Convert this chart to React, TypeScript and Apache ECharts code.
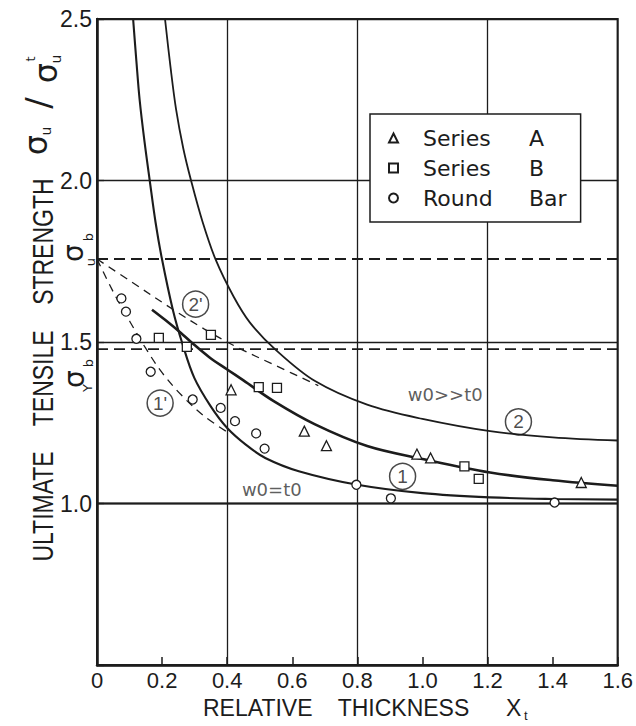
import React, { useEffect, useRef } from "react";
import * as echarts from "echarts";

// ---- data ----
const xTickStep = 0.2;
const xGridStep = 0.4;
const yTickStep = 0.5;
const xRange: [number, number] = [0, 1.6];
const yRange: [number, number] = [0.5, 2.5];

const seriesA: [number, number][] = [
  [0.412, 1.352], [0.637, 1.224], [0.705, 1.179], [0.983, 1.153], [1.025, 1.141], [1.488, 1.065],
];
const seriesB: [number, number][] = [
  [0.19, 1.513], [0.276, 1.485], [0.35, 1.522], [0.497, 1.36], [0.553, 1.358], [1.129, 1.115], [1.173, 1.076],
];
const roundBar: [number, number][] = [
  [0.075, 1.635], [0.089, 1.594], [0.121, 1.51], [0.165, 1.408], [0.294, 1.322], [0.38, 1.296],
  [0.424, 1.255], [0.489, 1.217], [0.515, 1.17], [0.797, 1.058], [0.903, 1.016], [1.406, 1.003],
];

// curve (2): w0 >> t0
const curve2: [number, number][] = [
  [0.209, 2.5], [0.226, 2.35], [0.243, 2.22], [0.265, 2.1], [0.289, 2.0], [0.325, 1.87], [0.365, 1.754],
  [0.42, 1.64], [0.47, 1.56], [0.55, 1.475], [0.67, 1.379], [0.83, 1.306], [1.0, 1.262], [1.208, 1.224],
  [1.4, 1.205], [1.6, 1.195],
];
// curve (1): w0 = t0
const curve1: [number, number][] = [
  [0.111, 2.5], [0.121, 2.37], [0.131, 2.25], [0.146, 2.12], [0.162, 2.0], [0.18, 1.87], [0.199, 1.76],
  [0.233, 1.6], [0.263, 1.493], [0.299, 1.389], [0.35, 1.3], [0.4, 1.234], [0.46, 1.18], [0.517, 1.141],
  [0.62, 1.1], [0.8, 1.058], [1.0, 1.032], [1.208, 1.019], [1.4, 1.014], [1.6, 1.012],
];
// middle (fitted) curve
const curveMid: [number, number][] = [
  [0.169, 1.6], [0.21, 1.568], [0.258, 1.528], [0.289, 1.5], [0.345, 1.453], [0.4, 1.415], [0.45, 1.381],
  [0.543, 1.317], [0.67, 1.245], [0.83, 1.178], [1.0, 1.138], [1.208, 1.096], [1.4, 1.072], [1.6, 1.055],
];
// dashed curves (2') and (1')
const curve2p: [number, number][] = [
  [0, 1.757], [0.1, 1.69], [0.235, 1.6], [0.33, 1.54], [0.43, 1.484], [0.543, 1.43], [0.68, 1.365],
];
const curve1p: [number, number][] = [
  [0, 1.757], [0.05, 1.655], [0.1, 1.565], [0.15, 1.48], [0.2, 1.405], [0.26, 1.335], [0.33, 1.27], [0.41, 1.215],
];

const sigmaUb = 1.757;
const sigmaYb = 1.478;
const unity = 1.0;

const circledLabels = [
  { name: "2'", value: [0.303, 1.617] },
  { name: "1'", value: [0.194, 1.311] },
  { name: "2", value: [1.295, 1.253] },
  { name: "1", value: [0.939, 1.084] },
];
const noteLabels = [
  { name: "w0>>t0", value: [1.07, 1.339] },
  { name: "w0=t0", value: [0.537, 1.043] },
];

const legendNames = ["Series A", "Series B", "Round Bar"];

// ---- styling ----
const INK = "#1c1c1c";
const FONT = "'Liberation Sans', Arial, sans-serif";
const NOTE_FONT = "'DejaVu Sans', sans-serif";

function hLine(y: number): [number, number][] {
  return [[xRange[0], y], [xRange[1], y]];
}

function lineSeries(name: string, data: [number, number][], width: number, type: any = "solid") {
  return {
    type: "line",
    name,
    data,
    showSymbol: false,
    symbol: "none",
    smooth: 0.35,
    silent: true,
    clip: true,
    z: 2,
    lineStyle: { color: INK, width, type },
  };
}

function scatterSeries(name: string, data: [number, number][], symbol: string, size: number) {
  return {
    type: "scatter",
    name,
    data,
    symbol,
    symbolSize: size,
    z: 5,
    itemStyle: { color: "#ffffff", borderColor: INK, borderWidth: 1.3, opacity: 1 },
  };
}

function txt(text: string, x: number, y: number, size: number, extra: any = {}) {
  return {
    type: "text",
    x,
    y,
    ...extra,
    style: {
      text,
      fontSize: size,
      fontFamily: extra.fontFamily || NOTE_FONT,
      fill: INK,
      align: extra.align || "center",
      textAlign: extra.align || "center",
      verticalAlign: "middle",
      textVerticalAlign: "middle",
    },
  };
}

function buildOption(): any {
  return {
    animation: false,
    backgroundColor: "#ffffff",
    grid: {
      left: 97,
      right: 15,
      top: 19,
      bottom: 61,
      show: true,
      borderColor: INK,
      borderWidth: 2,
      backgroundColor: "transparent",
    },
    legend: {
      data: legendNames,
      orient: "vertical",
      left: 370,
      top: 114,
      padding: [13, 14, 13, 18],
      itemGap: 8,
      itemWidth: 9,
      itemHeight: 9,
      borderColor: INK,
      borderWidth: 1.5,
      backgroundColor: "#ffffff",
      selectedMode: false,
      formatter: (name: string) => {
        const i = name.lastIndexOf(" ");
        return `{a|${name.slice(0, i)}}{b|${name.slice(i + 1)}}`;
      },
      textStyle: {
        fontFamily: NOTE_FONT,
        fontSize: 22,
        color: INK,
        rich: {
          a: { fontFamily: NOTE_FONT, fontSize: 22, color: INK, width: 106, padding: [0, 0, 0, 20] },
          b: { fontFamily: NOTE_FONT, fontSize: 22, color: INK },
        },
      },
    },
    xAxis: [
      {
        type: "value",
        min: xRange[0],
        max: xRange[1],
        interval: xTickStep,
        axisLine: { show: true, lineStyle: { color: INK, width: 2.5 } },
        axisTick: { show: true, inside: true, length: 8, lineStyle: { color: INK, width: 1.5 } },
        axisLabel: {
          fontFamily: FONT,
          fontSize: 22,
          color: INK,
          margin: 4,
          formatter: (v: number) => (v === 0 ? "0" : v.toFixed(1)),
        },
        splitLine: { show: false },
      },
      {
        type: "value",
        min: xRange[0],
        max: xRange[1],
        interval: xGridStep,
        position: "bottom",
        axisLine: { show: false },
        axisTick: { show: false },
        axisLabel: { show: false },
        splitLine: { show: true, lineStyle: { color: INK, width: 1.3 } },
      },
    ],
    yAxis: {
      type: "value",
      min: yRange[0],
      max: yRange[1],
      interval: yTickStep,
      axisLine: { show: true, lineStyle: { color: INK, width: 2.5 } },
      axisTick: { show: true, inside: true, length: 7, lineStyle: { color: INK, width: 1.3 } },
      axisLabel: {
        fontFamily: FONT,
        fontSize: 23,
        color: INK,
        margin: 5,
        formatter: (v: number) => (v === yRange[0] ? "" : v.toFixed(1)),
      },
      splitLine: { show: true, lineStyle: { color: INK, width: 1.3 } },
    },
    series: [
      { ...lineSeries("unity", hLine(unity), 2.2), smooth: false },
      { ...lineSeries("sigmaUb", hLine(sigmaUb), 1.8, [11, 6]), smooth: false },
      { ...lineSeries("sigmaYb", hLine(sigmaYb), 1.8, [11, 6]), smooth: false },
      lineSeries("curve2", curve2, 1.8),
      lineSeries("curve1", curve1, 2.1),
      lineSeries("curveMid", curveMid, 2.6),
      lineSeries("curve2p", curve2p, 1.3, [8, 6]),
      lineSeries("curve1p", curve1p, 1.3, [8, 6]),
      scatterSeries("Series A", seriesA, "triangle", 10),
      scatterSeries("Series B", seriesB, "rect", 9),
      scatterSeries("Round Bar", roundBar, "circle", 9),
      {
        type: "scatter",
        name: "circled",
        data: circledLabels,
        symbol: "circle",
        symbolSize: 26,
        z: 6,
        itemStyle: { color: "rgba(255,255,255,0)", borderColor: INK, borderWidth: 1.5 },
        label: {
          show: true,
          position: "inside",
          formatter: "{b}",
          fontFamily: FONT,
          fontSize: 19,
          color: INK,
        },
      },
      {
        type: "scatter",
        name: "notes",
        data: noteLabels,
        symbol: "circle",
        symbolSize: 1,
        z: 6,
        itemStyle: { color: "rgba(255,255,255,0)" },
        label: {
          show: true,
          position: "inside",
          formatter: "{b}",
          fontFamily: NOTE_FONT,
          fontSize: 18,
          color: "#333333",
        },
      },
    ],
    graphic: [
      // y-axis title
      txt("ULTIMATE    TENSILE    STRENGTH", 43, 370, 23, {
        rotation: Math.PI / 2,
        scaleY: 1.25,
        fontFamily: FONT,
      }),
      // sigma_u / sigma_u^t
      {
        type: "group",
        x: 36,
        y: 145,
        rotation: Math.PI / 2,
        children: [
          txt("σ", 0, 0, 32),
          txt("u", 14, 10, 14),
          txt("/", 42, 2, 34),
          txt("σ", 72, 10, 32),
          txt("u", 86, 20, 14),
          txt("t", 86, -6, 13),
        ],
      },
      // sigma_u^b
      {
        type: "group",
        x: 73,
        y: 253,
        rotation: Math.PI / 2,
        children: [txt("σ", 0, 0, 28), txt("b", 16, 15, 13), txt("u", -9, 17, 13)],
      },
      // sigma_Y^b
      {
        type: "group",
        x: 74,
        y: 379,
        rotation: Math.PI / 2,
        children: [txt("σ", 0, 0, 28), txt("b", 16, 14, 13), txt("Y", -9, 13, 13)],
      },
      // x-axis title
      txt("RELATIVE    THICKNESS", 203, 708, 23, { align: "left", fontFamily: FONT }),
      txt("X", 506, 708, 23, { align: "left", fontFamily: FONT }),
      txt("t", 524, 715, 13, { align: "left", fontFamily: FONT }),
    ],
  };
}

export default function App() {
  const ref = useRef<HTMLDivElement>(null);
  useEffect(() => {
    if (!ref.current) return;
    const chart = echarts.init(ref.current, null, { renderer: "svg" });
    chart.setOption(buildOption());
    return () => {
      chart.dispose();
    };
  }, []);
  return (
    <div
      ref={ref}
      style={{ position: "fixed", left: 0, top: 0, width: 636, height: 726, background: "#ffffff" }}
    />
  );
}
